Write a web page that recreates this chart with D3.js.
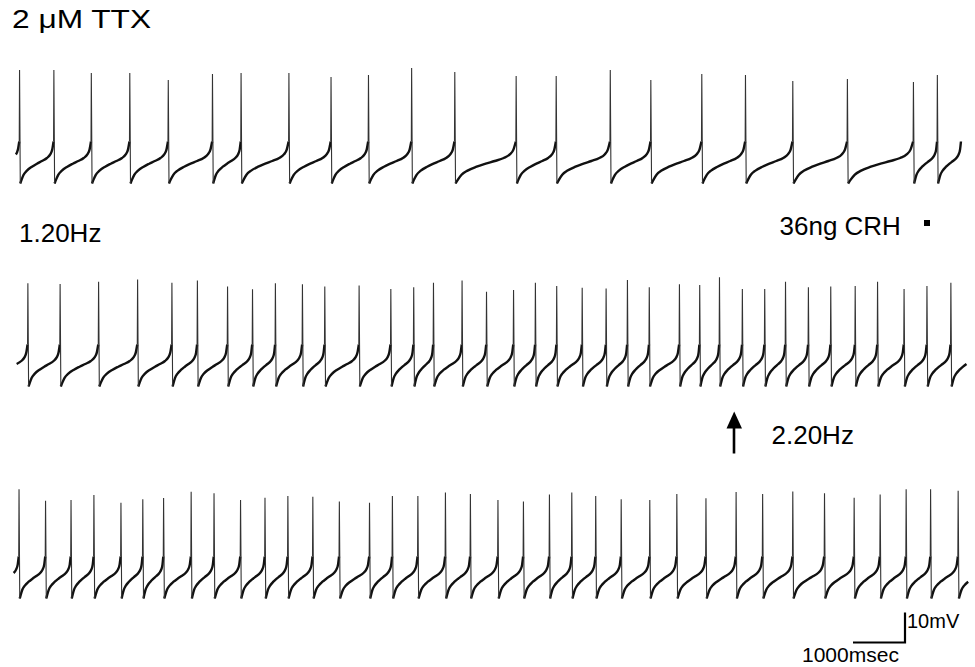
<!DOCTYPE html>
<html>
<head>
<meta charset="utf-8">
<script src="https://cdn.jsdelivr.net/npm/d3@7"></script>
<style>
  html, body { margin: 0; padding: 0; background: #fff; }
  text { font-family: "Liberation Sans", Arial, sans-serif; fill: #000; }
</style>
</head>
<body>
<div id="wrapper"></div>
<script>
// spike times (ms) and spike peaks (mV above the row's mean level)
const row1Times = [120, 780, 1500, 2240, 2980, 3830, 4380, 5300, 6110, 6830, 7660, 8490,
  9670, 10440, 11480, 12260, 13240, 14080, 14990, 16040, 17310, 17770]
const row1Peaks = [28.3, 28.3, 27.3, 27.3, 25, 27, 27.3, 27.3, 26, 26.7, 29, 27.7,
  26.3, 26.3, 28.3, 25, 27, 26.7, 24.7, 25.3, 24.3, 26.7]

const row2Times = [280, 900, 1640, 2390, 3050, 3540, 4120, 4600, 5040, 5560, 5990, 6650,
  7260, 7700, 8080, 8630, 9100, 9620, 10040, 10450, 10940, 11400, 11810, 12230, 12810,
  13200, 13580, 14020, 14450, 14850, 15290, 15720, 16190, 16620, 17130, 17570, 18030]
const row2Peaks = [24.9, 24.7, 25.4, 26.2, 25.1, 25.8, 23.8, 22.9, 24.9, 24.6, 23.8, 24.2,
  23, 23.6, 25.1, 25.8, 22.1, 22.7, 25.1, 24, 23.4, 23.2, 26, 23.6, 24.6,
  24.3, 26.9, 23, 23, 25.4, 23.6, 23.8, 24, 25.4, 23, 24, 25.1]

const row3Times = [110, 620, 1110, 1550, 2070, 2490, 2890, 3420, 3860, 4370, 4840, 5280,
  5760, 6270, 6850, 7290, 7780, 8310, 8790, 9320, 9810, 10310, 10740, 11200, 11690,
  12240, 12760, 13320, 13900, 14410, 14990, 15600, 16170, 16670, 17170, 17640, 18170]
const row3Peaks = [26.9, 23.1, 23.3, 25, 22.4, 23.6, 24, 26.1, 25.6, 23.3, 24.1, 24.7,
  24.4, 22.8, 22.4, 24.7, 24.7, 25.8, 25.3, 23.3, 22.8, 25.2, 25.8, 24.7, 23.6,
  23.3, 25.3, 23.9, 26, 25.3, 26.2, 25.6, 24.1, 25.2, 26.9, 26.9, 26.4]

const traceStart = [20, 10, 10]
const traceEnd = [18370, 18400, 18440]

// typical interspike trajectory: [fraction of interval, mV]
const ahpShape = [[0, -9.5], [0.04, -8.2], [0.1, -6.6], [0.2, -5.2], [0.35, -3.9],
  [0.5, -2.9], [0.65, -2.0], [0.8, -1.0], [0.9, 0.2], [0.96, 1.8], [1, 4.5]]
const threshold = 4.5
const trough = -9.5

const rows = [
  {times: row1Times, peaks: row1Peaks, zeroY: 155},
  {times: row2Times, peaks: row2Peaks, zeroY: 358},
  {times: row3Times, peaks: row3Peaks, zeroY: 570},
]

const width = 975
const height = 667

const svg = d3.select("#wrapper")
  .append("svg")
  .attr("width", width)
  .attr("height", height)

// 1000 ms = 52 px
const xScale = d3.scaleLinear()
  .domain([0, 18500])
  .range([13, 13 + 18500 * 0.052])

const slowLine = d3.line().curve(d3.curveMonotoneX)
const spikeLine = d3.line()

rows.forEach((row, r) => {
  // 10 mV = 30 px
  const yScale = d3.scaleLinear()
    .domain([0, 10])
    .range([row.zeroY, row.zeroY - 30])

  const g = svg.append("g")
  const t = row.times
  const segments = []
  for (let i = -1; i < t.length; i++) {
    let a, b
    if (i === -1) { a = t[0] - (t[1] - t[0]); b = t[0] }
    else if (i === t.length - 1) { a = t[i]; b = t[i] + (t[i] - t[i - 1]) }
    else { a = t[i]; b = t[i + 1] }
    const s = a + 20
    const pts = ahpShape
      .map(([p, v]) => [s + p * (b - s), v])
      .filter(d => d[0] >= traceStart[r] && d[0] <= traceEnd[r])
    if (pts.length > 1) segments.push(pts)
  }

  g.selectAll("path.slow")
    .data(segments)
    .join("path")
    .attr("class", "slow")
    .attr("fill", "none")
    .attr("stroke", "#111")
    .attr("stroke-width", 2.4)
    .attr("stroke-linejoin", "round")
    .attr("d", d => slowLine(d.map(p => [xScale(p[0]), yScale(p[1])])))

  g.selectAll("path.spike")
    .data(t.map((d, i) => [[d, threshold], [d + 6, row.peaks[i]], [d + 20, trough]]))
    .join("path")
    .attr("class", "spike")
    .attr("fill", "none")
    .attr("stroke", "#333")
    .attr("stroke-width", 1.1)
    .attr("d", d => spikeLine(d.map(p => [xScale(p[0]), yScale(p[1])])))
})

// labels
svg.append("text")
  .attr("x", 12).attr("y", 28)
  .attr("font-size", 26)
  .attr("textLength", 139)
  .attr("lengthAdjust", "spacingAndGlyphs")
  .text("2 μM TTX")

svg.append("text")
  .attr("x", 19).attr("y", 242)
  .attr("font-size", 26)
  .text("1.20Hz")

svg.append("text")
  .attr("x", 779.5).attr("y", 235)
  .attr("font-size", 26)
  .text("36ng CRH")

svg.append("rect")
  .attr("x", 924).attr("y", 220)
  .attr("width", 6).attr("height", 6)
  .attr("fill", "#000")

// arrow
svg.append("line")
  .attr("x1", 734).attr("x2", 734)
  .attr("y1", 426).attr("y2", 453.5)
  .attr("stroke", "#000")
  .attr("stroke-width", 2.6)
svg.append("path")
  .attr("d", "M726.5,428.5L742,428.5L734.2,411.5Z")
  .attr("fill", "#000")

svg.append("text")
  .attr("x", 771.5).attr("y", 444)
  .attr("font-size", 26)
  .text("2.20Hz")

// scale bar
svg.append("path")
  .attr("d", `M${xScale(0) + 840},642.5H${xScale(1000) + 840}V612.5`)
  .attr("fill", "none")
  .attr("stroke", "#000")
  .attr("stroke-width", 2.2)

svg.append("text")
  .attr("x", 907).attr("y", 628)
  .attr("font-size", 20)
  .text("10mV")

svg.append("text")
  .attr("x", 802).attr("y", 662)
  .attr("font-size", 21)
  .text("1000msec")
</script>
</body>
</html>
